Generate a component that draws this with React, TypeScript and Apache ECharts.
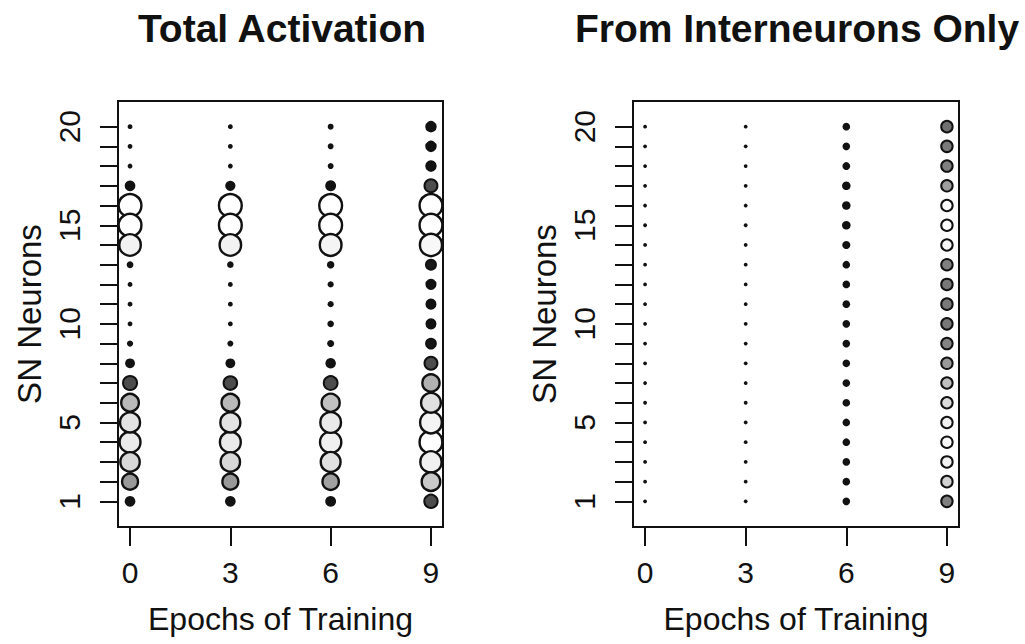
import React, { useEffect, useRef } from "react";
import * as echarts from "echarts";

// ---- data ----
const epochs = [0, 3, 6, 9];
const neurons = [1, 2, 3, 4, 5, 6, 7, 8, 9, 10, 11, 12, 13, 14, 15, 16, 17, 18, 19, 20];
const xTickValues = [0, 3, 6, 9];
const yTickValues = [1, 2, 3, 4, 5, 6, 7, 8, 9, 10, 11, 12, 13, 14, 15, 16, 17, 18, 19, 20];
const yLabelValues = [1, 5, 10, 15, 20];

// Total activation (0..1) per SN neuron 1..20, one array per epoch
const totalEpoch0 = [0.32, 0.68, 0.84, 0.91, 0.87, 0.76, 0.57, 0.28, 0.11, 0.05, 0.05, 0.05, 0.14, 0.94, 1.0, 1.0, 0.32, 0.05, 0.05, 0.05];
const totalEpoch3 = [0.32, 0.68, 0.84, 0.91, 0.87, 0.76, 0.55, 0.28, 0.1, 0.05, 0.05, 0.05, 0.13, 0.94, 1.0, 1.0, 0.3, 0.05, 0.05, 0.05];
const totalEpoch6 = [0.33, 0.7, 0.86, 0.93, 0.9, 0.78, 0.56, 0.31, 0.15, 0.13, 0.11, 0.11, 0.17, 0.95, 1.0, 1.0, 0.33, 0.1, 0.1, 0.1];
const totalEpoch9 = [0.54, 0.8, 0.93, 1.0, 0.95, 0.86, 0.74, 0.52, 0.37, 0.34, 0.34, 0.34, 0.38, 0.97, 1.0, 1.0, 0.52, 0.36, 0.36, 0.36];

// From interneurons only: magnitude (size) and shade (0 black .. 1 white)
const interMagEpoch0 = [0, 0, 0, 0, 0, 0, 0, 0, 0, 0, 0, 0, 0, 0, 0, 0, 0, 0, 0, 0];
const interMagEpoch3 = [0, 0, 0, 0, 0, 0, 0, 0, 0, 0, 0, 0, 0, 0, 0, 0, 0, 0, 0, 0];
const interMagEpoch6 = [0.18, 0.18, 0.18, 0.18, 0.18, 0.18, 0.18, 0.18, 0.18, 0.18, 0.18, 0.18, 0.18, 0.2, 0.22, 0.22, 0.22, 0.19, 0.18, 0.18];
const interMagEpoch9 = [0.45, 0.45, 0.45, 0.45, 0.45, 0.45, 0.45, 0.45, 0.45, 0.45, 0.45, 0.45, 0.45, 0.45, 0.45, 0.45, 0.45, 0.45, 0.45, 0.45];
const interShadeEpoch0 = [0, 0, 0, 0, 0, 0, 0, 0, 0, 0, 0, 0, 0, 0, 0, 0, 0, 0, 0, 0];
const interShadeEpoch3 = [0, 0, 0, 0, 0, 0, 0, 0, 0, 0, 0, 0, 0, 0, 0, 0, 0, 0, 0, 0];
const interShadeEpoch6 = [0, 0, 0, 0, 0, 0, 0, 0, 0, 0, 0, 0, 0, 0, 0, 0, 0, 0, 0, 0];
const interShadeEpoch9 = [0.5, 0.82, 0.95, 0.98, 0.94, 0.86, 0.75, 0.6, 0.52, 0.47, 0.47, 0.47, 0.5, 0.97, 1.0, 1.0, 0.62, 0.5, 0.48, 0.44];

const totalByEpoch = [totalEpoch0, totalEpoch3, totalEpoch6, totalEpoch9];
const interMagByEpoch = [interMagEpoch0, interMagEpoch3, interMagEpoch6, interMagEpoch9];
const interShadeByEpoch = [interShadeEpoch0, interShadeEpoch3, interShadeEpoch6, interShadeEpoch9];

// ---- visual mapping ----
const FONT = "'Liberation Sans', Arial, Helvetica, sans-serif";
const INK = "#111111";
const RIM = "#111111";
const diameterOf = (a: number) => 3.8 + 21.4 * a;
const shadeStops: [number, number][] = [
  [0.36, 0.07], [0.52, 0.3], [0.57, 0.3], [0.68, 0.6], [0.77, 0.74], [0.86, 0.88], [0.93, 0.94], [1.0, 1.0],
];
const shadeOfActivation = (a: number) => {
  if (a <= shadeStops[0][0]) return shadeStops[0][1];
  for (let i = 1; i < shadeStops.length; i++) {
    const [x1, y1] = shadeStops[i];
    const [x0, y0] = shadeStops[i - 1];
    if (a <= x1) return y0 + ((a - x0) / (x1 - x0)) * (y1 - y0);
  }
  return 1;
};
const grayColor = (s: number) => {
  const v = Math.round(Math.max(0.07, Math.min(1, s)) * 255);
  return `rgb(${v},${v},${v})`;
};

type Pt = { x: number; y: number; d: number; shade: number };

const toItems = (pts: Pt[]) =>
  pts
    .slice()
    .sort((p, q) => q.d - p.d)
    .map((p) => {
      if (p.d < 11) {
        return {
          value: [p.x, p.y],
          symbolSize: p.d,
          itemStyle: { color: grayColor(p.shade), borderColor: RIM, borderWidth: 0, opacity: 1 },
        };
      }
      const bw = p.d >= 18 ? 2.4 : 2;
      return {
        value: [p.x, p.y],
        symbolSize: p.d - bw,
        itemStyle: { color: grayColor(p.shade), borderColor: RIM, borderWidth: bw, opacity: 1 },
      };
    });

const buildTotal = () => {
  const pts: Pt[] = [];
  epochs.forEach((e, ei) => {
    for (let k = neurons.length - 1; k >= 0; k--) {
      const a = totalByEpoch[ei][k];
      pts.push({ x: e, y: neurons[k], d: diameterOf(a), shade: shadeOfActivation(a) });
    }
  });
  return toItems(pts);
};

const buildInter = () => {
  const pts: Pt[] = [];
  epochs.forEach((e, ei) => {
    for (let k = neurons.length - 1; k >= 0; k--) {
      pts.push({ x: e, y: neurons[k], d: diameterOf(interMagByEpoch[ei][k]), shade: interShadeByEpoch[ei][k] });
    }
  });
  return toItems(pts);
};

const makeX = (gridIndex: number) => ({
  type: "value",
  gridIndex,
  min: -0.36,
  max: 9.36,
  axisLine: { show: false, onZero: false },
  splitLine: { show: false },
  axisTick: { show: true, customValues: xTickValues, length: 19, lineStyle: { color: INK, width: 2 } },
  axisLabel: { customValues: xTickValues, fontSize: 30, fontFamily: FONT, color: INK, margin: 30 },
  name: "Epochs of Training",
  nameLocation: "middle",
  nameGap: 76,
  nameTextStyle: { fontSize: 32, fontFamily: FONT, color: INK },
});

const makeY = (gridIndex: number) => ({
  type: "value",
  gridIndex,
  min: -0.3,
  max: 21.3,
  axisLine: { show: false, onZero: false },
  splitLine: { show: false },
  axisTick: { show: true, customValues: yTickValues, length: 18, lineStyle: { color: INK, width: 2 } },
  axisLabel: { customValues: yLabelValues, rotate: 90, fontSize: 30, fontFamily: FONT, color: INK, margin: 34 },
  name: "SN Neurons",
  nameLocation: "middle",
  nameGap: 72,
  nameTextStyle: { fontSize: 33, fontFamily: FONT, color: INK },
});

export default function App() {
  const ref = useRef<HTMLDivElement>(null);
  useEffect(() => {
    if (!ref.current) return;
    const chart = echarts.init(ref.current, undefined, { renderer: "svg" });
    chart.setOption({
      animation: false,
      backgroundColor: "#ffffff",
      title: [
        {
          text: "Total Activation",
          left: 277,
          top: 4,
          textAlign: "center",
          textStyle: { fontSize: 39, fontWeight: "bold", fontFamily: FONT, color: INK },
        },
        {
          text: "From Interneurons Only",
          left: 792,
          top: 4,
          textAlign: "center",
          textStyle: { fontSize: 39, fontWeight: "bold", fontFamily: FONT, color: INK },
        },
      ],
      grid: [
        { left: 118, top: 101, width: 325, height: 426, show: true, borderColor: INK, borderWidth: 2, backgroundColor: "transparent" },
        { left: 633, top: 101, width: 326, height: 426, show: true, borderColor: INK, borderWidth: 2, backgroundColor: "transparent" },
      ],
      xAxis: [makeX(0), makeX(1)],
      yAxis: [makeY(0), makeY(1)],
      series: [
        { type: "scatter", xAxisIndex: 0, yAxisIndex: 0, symbol: "circle", itemStyle: { opacity: 1 }, data: buildTotal() },
        { type: "scatter", xAxisIndex: 1, yAxisIndex: 1, symbol: "circle", itemStyle: { opacity: 1 }, data: buildInter() },
      ],
    });
    return () => chart.dispose();
  }, []);
  return (
    <div
      ref={ref}
      style={{ position: "fixed", left: 0, top: 0, width: 1025, height: 644, background: "#fff" }}
    />
  );
}
